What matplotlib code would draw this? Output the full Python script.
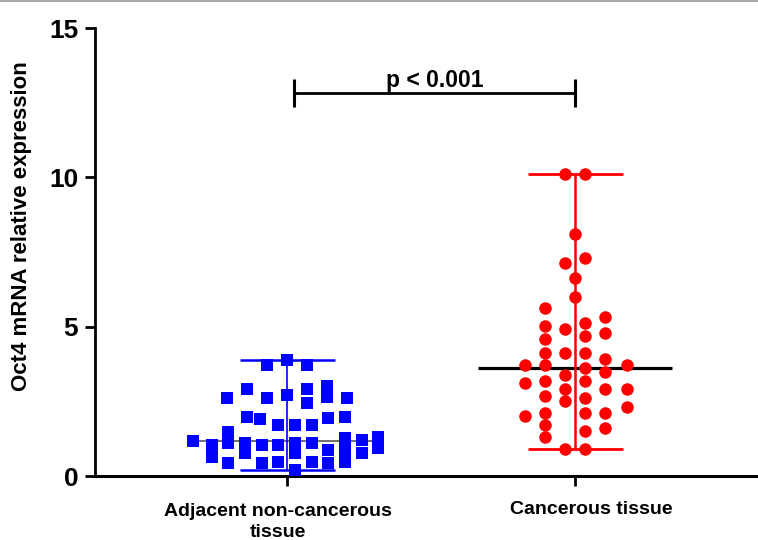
import numpy as np
import matplotlib.pyplot as plt
from matplotlib.lines import Line2D
from matplotlib.transforms import ScaledTranslation

plt.rcParams['font.family'] = ['Liberation Sans', 'DejaVu Sans']

groups = ['Adjacent non-cancerous\ntissue', 'Cancerous tissue']

# adjacent tissue: horizontal jitter (data units) and expression values
adj_dx = [-0.069, 0.0, 0.069,
          -0.208, -0.139, -0.069, 0.0, 0.069, 0.069, 0.139, 0.139, 0.208,
          -0.139, -0.094, -0.030, 0.028, 0.087, 0.142, 0.201,
          -0.204,
          -0.326,
          -0.26, -0.26,
          -0.204, -0.204,
          -0.146, -0.146,
          -0.087, -0.087,
          -0.030, -0.030,
          0.028, 0.028, 0.028,
          0.087, 0.087,
          0.142, 0.142,
          0.201, 0.201, 0.201,
          0.26, 0.26,
          0.316, 0.316]
adj_val = [3.72, 3.90, 3.72,
           2.60, 2.90, 2.60, 2.71, 2.90, 2.43, 3.00, 2.65, 2.60,
           1.99, 1.90, 1.71, 1.71, 1.71, 1.93, 1.99,
           1.48,
           1.18,
           1.04, 0.64,
           1.09, 0.43,
           1.10, 0.77,
           1.04, 0.43,
           1.04, 0.48,
           1.09, 0.76, 0.20,
           1.09, 0.48,
           0.87, 0.43,
           1.27, 0.87, 0.48,
           1.20, 0.77,
           1.30, 0.93]

# cancerous tissue
can_dx = [-0.035, 0.035,
          0.0,
          -0.035, 0.035,
          0.0,
          0.0,
          -0.104,
          0.104,
          -0.104, -0.035, 0.035,
          0.035, 0.104,
          -0.104,
          -0.104, -0.035, 0.035,
          0.104,
          -0.174, -0.104, 0.035, 0.104, 0.18,
          -0.035,
          -0.174, -0.104, 0.035,
          -0.035, 0.104, 0.18,
          -0.104, -0.035, 0.035,
          0.18,
          -0.174, -0.104, 0.035, 0.104,
          -0.104,
          0.035, 0.104,
          -0.104,
          -0.035, 0.035]
can_val = [10.11, 10.11,
           8.10,
           7.12, 7.31,
           6.62,
           6.00,
           5.61,
           5.31,
           5.03, 4.91, 5.11,
           4.69, 4.80,
           4.58,
           4.11, 4.11, 4.11,
           3.91,
           3.72, 3.72, 3.61, 3.49, 3.72,
           3.38,
           3.10, 3.19, 3.19,
           2.90, 2.90, 2.90,
           2.68, 2.52, 2.60,
           2.30,
           2.01, 2.10, 2.10, 2.10,
           1.71,
           1.52, 1.60,
           1.30,
           0.89, 0.89]

adj_median = 1.18
can_median = 3.61
p_text = 'p < 0.001'

fig = plt.figure(figsize=(7.58, 5.4), dpi=100)
ax = fig.add_axes([0.1253, 0.1185, 0.8747, 0.8296])

# median lines
ax.hlines(adj_median, 0 - 0.33, 0 + 0.33, color='#555555', lw=1.2, zorder=1)
ax.hlines(can_median, 1 - 0.337, 1 + 0.337, color='black', lw=2.3, zorder=1)

# range bars (min..max)
cw = 0.165
ax.vlines(0, min(adj_val), max(adj_val), color='blue', lw=1.2, zorder=2)
ax.hlines([min(adj_val), max(adj_val)], -cw, cw, color='blue', lw=1.8, zorder=2)
ax.vlines(1, min(can_val), max(can_val), color='red', lw=1.8, zorder=2)
ax.hlines([min(can_val), max(can_val)], 1 - cw, 1 + cw, color='red', lw=2.0, zorder=2)

ax.plot(np.array(adj_dx), adj_val, 's', color='blue', ms=8.6, mew=0, zorder=3)
ax.plot(1 + np.array(can_dx), can_val, 'o', color='red', ms=9, mew=0, zorder=3)

# significance bracket
bx0, bx1 = 0.025, 1.0
ax.plot([bx0, bx1], [12.81, 12.81], color='black', lw=2.0, solid_capstyle='butt')
ax.vlines([bx0, bx1], 12.35, 13.30, color='black', lw=2.2)
ax.text((bx0 + bx1) / 2, 12.85, p_text, ha='center', va='bottom', fontsize=16.5, fontweight='bold')

ax.set_xlim(-0.667, 1.635)
ax.set_ylim(0, 15)
ax.set_yticks([0, 5, 10, 15])
ax.set_xticks([0, 1])
ax.set_xticklabels([])
# group labels, placed under the ticks with small offsets like the original
for i, (name, dx, dy) in enumerate(zip(groups, [-0.09, 0.16], [-0.27, -0.25])):
    tr = ax.get_xaxis_transform() + ScaledTranslation(dx, dy, fig.dpi_scale_trans)
    ax.text(i, 0, name, transform=tr, ha='center', va='top', fontsize=14,
            fontweight='bold', linespacing=1.3, clip_on=False)
for lab in ax.get_yticklabels():
    lab.set_fontsize(19)
    lab.set_fontweight('bold')

ax.spines['top'].set_visible(False)
ax.spines['right'].set_visible(False)
ax.spines['left'].set_linewidth(2)
ax.spines['bottom'].set_linewidth(2.2)
ax.tick_params(axis='both', width=2, length=7, direction='out')
ax.tick_params(axis='y', pad=5)

ax.set_ylabel('Oct4 mRNA relative expression', fontsize=16, fontweight='bold')
ax.yaxis.set_label_coords(-0.095, 0.558)

fig.add_artist(Line2D([0, 1], [0.998, 0.998], color='#999999', lw=1.2, transform=fig.transFigure))

fig.savefig('out.png', dpi=100)
